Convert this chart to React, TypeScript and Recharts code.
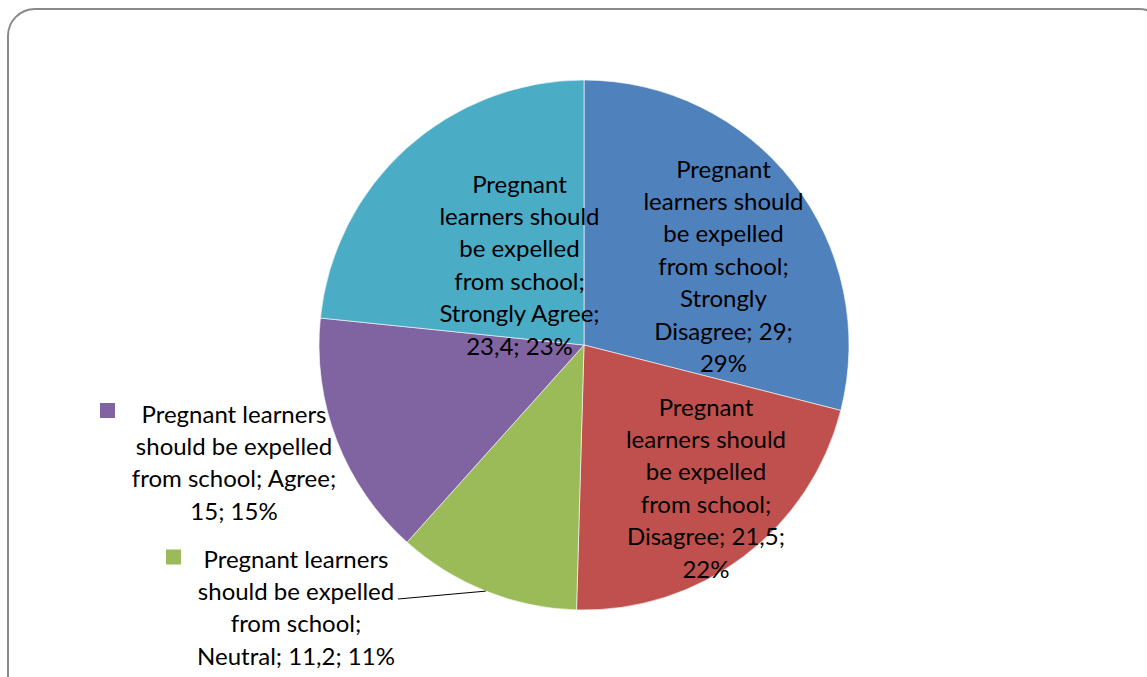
import React from "react";
import { PieChart, Pie, Cell } from "recharts";

const categories = ["Strongly Disagree", "Disagree", "Neutral", "Agree", "Strongly Agree"];
const values = [29, 21.5, 11.2, 15, 23.4];
const percents = ["29%", "22%", "11%", "15%", "23%"];
const valueLabels = ["29", "21,5", "11,2", "15", "23,4"];
const colors = ["#4F81BD", "#C0504D", "#9BBB59", "#8064A2", "#4BACC6"];

// label text broken into lines as in the original
const labelLines = [
  ["Pregnant", "learners should", "be expelled", "from school;", "Strongly", "Disagree; 29;", "29%"],
  ["Pregnant", "learners should", "be expelled", "from school;", "Disagree; 21,5;", "22%"],
  ["Pregnant learners", "should be expelled", "from school;", "Neutral; 11,2; 11%"],
  ["Pregnant learners", "should be expelled", "from school; Agree;", "15; 15%"],
  ["Pregnant", "learners should", "be expelled", "from school;", "Strongly Agree;", "23,4; 23%"],
];

// label layout, offsets from pie centre
const labelLayout = [
  { dx: 139.5, dy: -177, key: null as null | { dx: number; dy: number }, leader: false },
  { dx: 122, dy: 61, key: null, leader: false },
  { dx: -288, dy: 213, key: { dx: -410.5, dy: 212 }, leader: true },
  { dx: -350, dy: 68, key: { dx: -476.5, dy: 65.5 }, leader: false },
  { dx: -64.5, dy: -162, key: null, leader: false },
];

const data = categories.map((c, i) => ({
  name: c,
  value: values[i],
  display: valueLabels[i],
  pct: percents[i],
}));

const LINE_H = 32.4;
const RAD = Math.PI / 180;

const renderLabel = (props: any) => {
  const { cx, cy, midAngle, outerRadius, index } = props;
  const lay = labelLayout[index];
  const lines = labelLines[index];
  const x = cx + lay.dx;
  const y0 = cy + lay.dy;
  const edgeX = cx + Math.cos(-midAngle * RAD) * outerRadius;
  const edgeY = cy + Math.sin(-midAngle * RAD) * outerRadius;
  return (
    <g key={`lbl-${index}`}>
      {lay.leader && (
        <polyline
          points={`${cx - 186},${cy + 254} ${edgeX},${edgeY}`}
          fill="none"
          stroke="#000"
          strokeWidth={1}
        />
      )}
      {lay.key && (
        <rect
          x={cx + lay.key.dx - 7.5}
          y={cy + lay.key.dy - 7.5}
          width={15}
          height={15}
          fill={colors[index]}
        />
      )}
      {lines.map((l, j) => (
        <text
          key={j}
          x={x}
          y={y0 + j * LINE_H}
          textAnchor="middle"
          dominantBaseline="central"
          fill="#000"
          fontSize={24}
          fontFamily="Lato, 'Open Sans', sans-serif"
        >
          {l}
        </text>
      ))}
    </g>
  );
};

export default function App() {
  return (
    <div
      style={{
        position: "fixed",
        left: 0,
        top: 0,
        width: 1147,
        height: 677,
        overflow: "hidden",
        background: "#fff",
      }}
    >
      <div
        style={{
          position: "absolute",
          left: 7,
          top: 8,
          width: 1160,
          height: 700,
          border: "2px solid #8a8a8a",
          borderRadius: 28,
          boxSizing: "border-box",
        }}
      />
      <div style={{ position: "absolute", left: 0, top: 0 }}>
        <PieChart width={1147} height={677} margin={{ top: 0, right: 0, bottom: 0, left: 0 }}>
          <Pie
            data={data}
            dataKey="value"
            nameKey="name"
            cx={584}
            cy={345}
            outerRadius={265}
            startAngle={90}
            endAngle={-270}
            stroke="#ffffff"
            strokeWidth={0.6}
            label={renderLabel}
            labelLine={false}
            isAnimationActive={false}
          >
            {data.map((d, i) => (
              <Cell key={d.name} fill={colors[i]} />
            ))}
          </Pie>
        </PieChart>
      </div>
    </div>
  );
}
